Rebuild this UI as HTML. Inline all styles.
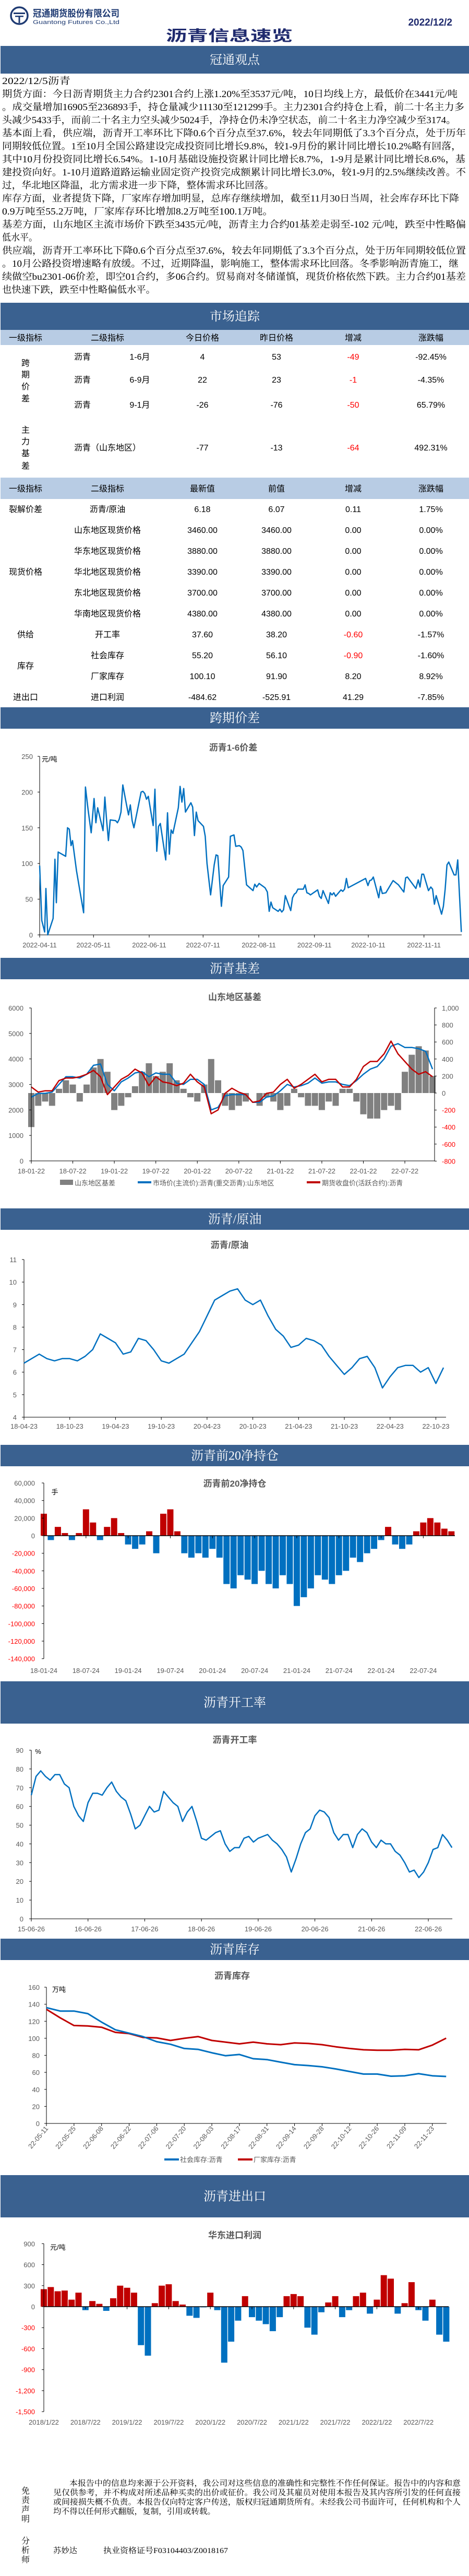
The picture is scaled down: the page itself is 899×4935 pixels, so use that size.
<!DOCTYPE html>
<html><head><meta charset="utf-8">
<style>
html,body{margin:0;padding:0;background:#fff;}
svg{display:block;font-family:"Liberation Sans","Noto Sans CJK SC",sans-serif;}
.b{font-family:"Liberation Serif","Noto Serif CJK SC","Noto Sans CJK SC",serif;}
.ax{font-size:13px;fill:#595959;}
.axr{font-size:13px;fill:#ff0000;}
.tt{font-size:17px;fill:#595959;font-weight:bold;}
.td{font-size:16px;fill:#000;}
.bn{font-size:24px;fill:#fff;}
</style></head>
<body>
<svg id="page" width="899" height="4935" viewBox="0 0 899 4935" xmlns="http://www.w3.org/2000/svg">
<rect x="0" y="0" width="899" height="4935" fill="#fff"/>
<!-- header -->
<g>
<circle cx="37" cy="30" r="16" fill="none" stroke="#1f3b73" stroke-width="3.5"/>
<rect x="26" y="24" width="22" height="3" fill="#1f3b73"/>
<rect x="29" y="30" width="16" height="2.5" fill="#1f3b73"/>
<rect x="35.5" y="30" width="3" height="14" fill="#1f3b73"/>
</g>
<text x="63" y="32" font-size="18" font-weight="bold" fill="#1f3b73" textLength="166" lengthAdjust="spacingAndGlyphs">冠通期货股份有限公司</text>
<text x="63" y="46" font-size="11" fill="#1f3b73" textLength="166" lengthAdjust="spacingAndGlyphs">Guantong Futures Co.,Ltd</text>
<text x="867" y="49" font-size="19" font-weight="bold" fill="#1f2a6e" text-anchor="end">2022/12/2</text>
<text x="318" y="78" font-size="28" font-weight="bold" fill="#1f2a6e" textLength="243" lengthAdjust="spacingAndGlyphs">沥青信息速览</text>

<g id="banners"></g>
<g id="para" class="b"></g>
<g id="table"></g>
<g id="charts"></g>

<!-- footer -->
<g class="b">
<text x="49" y="4777" font-size="16" text-anchor="middle">免</text>
<text x="49" y="4795" font-size="16" text-anchor="middle">责</text>
<text x="49" y="4813" font-size="16" text-anchor="middle">声</text>
<text x="49" y="4831" font-size="16" text-anchor="middle">明</text>
<text x="133" y="4762" font-size="15" textLength="750" lengthAdjust="spacingAndGlyphs">本报告中的信息均来源于公开资料，我公司对这些信息的准确性和完整性不作任何保证。报告中的内容和意</text>
<text x="102" y="4780" font-size="15" textLength="781" lengthAdjust="spacingAndGlyphs">见仅供参考，并不构成对所述品种买卖的出价或征价。我公司及其雇员对使用本报告及其内容所引发的任何直接</text>
<text x="102" y="4798" font-size="15" textLength="781" lengthAdjust="spacingAndGlyphs">或间接损失概不负责。本报告仅向特定客户传送，版权归冠通期货所有。未经我公司书面许可，任何机构和个人</text>
<text x="102" y="4816" font-size="15" textLength="311" lengthAdjust="spacingAndGlyphs">均不得以任何形式翻版，复制，引用或转载。</text>
</g>
<g class="b">
<text x="49" y="4873" font-size="16" text-anchor="middle">分</text>
<text x="49" y="4891" font-size="16" text-anchor="middle">析</text>
<text x="49" y="4909" font-size="16" text-anchor="middle">师</text>
<text x="102" y="4891" font-size="15" textLength="46" lengthAdjust="spacingAndGlyphs">苏妙达</text>
<text x="198" y="4891" font-size="15" textLength="239" lengthAdjust="spacingAndGlyphs">执业资格证号F03104403/Z0018167</text>
</g>
</svg>

<script>
// ===== Chart data =====
const spreadDays=[0,1.2,2.8,3.5,4.5,7.5,8.5,9.3,10.3,14.5,15.5,16.5,17.5,18.3,20.5,22.5,24.5,25.5,27,28.7,30.3,31.3,32.3,35.3,36.3,37.3,38.3,39.3,42.3,43.3,44.3,45.3,46.3,48.3,49.5,50.5,51.5,52.5,54.5,56.5,57.5,58.5,59.5,60.5,63.2,64.2,65.2,66.2,67.2,70.2,71.2,72.2,73.2,74.2,77.2,78.2,79.2,80.2,81.2,84.2,85.2,86.2,87.2,88.2,91.2,92.2,93.2,95.2,97.2,98.2,99.2,101.2,102.2,105.2,106.2,107.2,108.2,109.2,111.2,112.2,113.2,115.2,118.8,119.8,120.8,122.2,125.5,126.8,127.8,128.8,129.8,132.8,133.8,134.8,135.8,136.8,139.8,140.8,141.8,142.8,143.8,146.8,147.8,148.8,149.8,150.8,154.8,155.8,156.8,157.8,160.8,161.8,162.8,163.8,164.8,167.8,168.8,169.8,170.8,171.8,181.5,182.8,183.8,184.8,185.8,188.8,189.8,190.8,192.8,196.8,199.8,202.8,203.8,204.8,209.5,210.8,211.8,212.8,213.8,216.5,217.8,218.8,219.8,220.8,223.8,224.8,225.8,226.8,227.8,230.8,231.8,232.8,234.8];
const spreadValues=[97,20,4,65,0,23,106,45,116,110,150,148,125,132,90,60,31,207,175,143,191,157,178,146,193,160,132,161,160,157,162,172,210,183,168,182,160,150,175,200,201,198,190,194,153,204,117,152,156,105,171,113,147,142,178,208,186,205,172,185,179,139,172,160,152,138,100,56,98,112,111,40,69,81,138,139,140,124,125,123,118,70,62,71,67,72,66,60,33,46,38,33,36,32,35,55,34,52,57,59,64,64,70,59,58,56,63,54,51,62,44,59,56,59,54,63,61,64,79,66,79,69,76,77,81,52,68,58,59,76,70,60,80,81,65,77,67,85,85,62,67,64,43,55,29,40,64,98,102,84,84,105,4];
const spreadTickLabels=['2022-04-11','2022-05-11','2022-06-11','2022-07-11','2022-08-11','2022-09-11','2022-10-11','2022-11-11'];
const spreadTickDays=[0,30,61,91,122,153,183,214];
const spreadYTicks=[0,50,100,150,200,250];

const basisMonthLabels=['18-01-22','18-07-22','19-01-22','19-07-22','20-01-22','20-07-22','21-01-22','21-07-22','22-01-22','22-07-22'];
const basisSpot=[2500,2650,2650,2700,3000,3300,3300,3250,3400,3750,3800,3000,2750,3100,3250,3450,3500,3300,3450,3400,3400,3050,3000,3200,3200,3000,2000,2100,2550,2600,2600,2600,2300,2300,2500,2550,2750,3000,2900,2950,3050,3250,3050,3100,3100,3000,2950,3150,3400,3600,3700,4000,4500,4600,4450,4450,4400,4300,3600];
const basisFutures=[2900,2700,2750,2750,3150,3250,3250,3300,3400,3550,3300,2600,2900,3200,3350,3600,3450,2950,3300,3100,3050,2950,3050,3400,3100,2900,1850,2000,2650,2850,2700,2600,2300,2350,2650,2700,3000,3200,2850,3000,3200,3400,3100,3200,3200,2900,2900,3200,3700,3900,3900,4200,4700,4200,3900,3600,3400,3500,3300];
const basisValues=[-400,-150,-100,-150,50,150,100,-100,100,300,400,250,-200,-150,-50,80,250,350,200,250,350,150,50,-50,-100,100,400,150,-150,-200,-150,-100,0,-150,-50,-100,-200,-150,50,-50,-150,-150,-200,-100,-150,50,50,-100,-250,-300,-300,-200,-150,-200,250,450,550,500,200];
const basisLeftTicks=[0,1000,2000,3000,4000,5000,6000];
const basisRightTicks=[-800,-600,-400,-200,0,200,400,600,800,1000];

const ratioValues=[6.4,6.6,6.8,6.6,6.5,6.6,6.6,6.5,6.7,7.0,7.7,7.5,7.3,6.8,6.9,7.5,7.4,7.0,6.5,6.4,6.6,6.8,7.3,7.8,8.5,9.2,9.4,9.6,9.7,9.2,9.0,9.2,8.5,7.9,7.6,7.1,7.2,7.5,7.4,7.2,6.7,6.3,5.9,6.2,6.6,6.7,6.2,5.3,5.8,6.2,6.3,6.3,6.0,6.2,5.5,6.2];
const ratioTickLabels=['18-04-23','18-10-23','19-04-23','19-10-23','20-04-23','20-10-23','21-04-23','21-10-23','22-04-23','22-10-23'];
const ratioYTicks=[4,5,6,7,8,9,10,11];

const netPosValues=[25000,-5000,10000,3000,-5000,3000,30000,15000,-5000,10000,20000,3000,-10000,-15000,-10000,5000,-20000,25000,30000,5000,-20000,-25000,-20000,-25000,-15000,-25000,-55000,-60000,-45000,-50000,-55000,-40000,-55000,-60000,-45000,-55000,-80000,-70000,-60000,-45000,-50000,-55000,-45000,-40000,-25000,-30000,-20000,-15000,-5000,10000,-10000,-15000,-10000,5000,15000,20000,15000,8000,5000];
const netPosTickLabels=['18-01-24','18-07-24','19-01-24','19-07-24','20-01-24','20-07-24','21-01-24','21-07-24','22-01-24','22-07-24'];
const netPosYTicks=[-140000,-120000,-100000,-80000,-60000,-40000,-20000,0,20000,40000,60000];

const runRateValues=[66,76,79,76,74,77,77,72,70,60,55,52,62,67,67,66,70,73,68,65,63,56,48,50,55,60,57,58,68,65,62,60,52,57,60,52,43,42,44,46,47,40,36,38,38,43,44,41,43,44,45,42,40,37,33,25,32,40,46,48,55,58,57,54,46,42,45,45,38,45,48,46,41,38,42,40,40,36,34,30,25,26,22,25,30,37,38,45,42,38];
const runRateTickLabels=['15-06-26','16-06-26','17-06-26','18-06-26','19-06-26','20-06-26','21-06-26','22-06-26'];
const runRateYTicks=[0,10,20,30,40,50,60,70,80,90];

const invWeeks=['22-05-11','22-05-18','22-05-25','22-06-01','22-06-08','22-06-15','22-06-22','22-06-29','22-07-06','22-07-13','22-07-20','22-07-27','22-08-03','22-08-10','22-08-17','22-08-24','22-08-31','22-09-07','22-09-14','22-09-21','22-09-28','22-10-05','22-10-12','22-10-19','22-10-26','22-11-02','22-11-09','22-11-16','22-11-23','22-11-30'];
const socialInv=[136,132,132,129,119,110,106,102,96,93,88,87,83,79.5,81,76,75,72,69,68,66.5,64,61,58,58,55.5,56,58.5,56,55.2];
const factoryInv=[134,124,115,114.5,113,107,105.5,101,100.5,97.5,100,102,97.5,95.5,93.5,95.5,93.5,92.5,94.5,94,92.5,90,88,86.5,86,86,87,86.5,92,100.1];
const invYTicks=[0,20,40,60,80,100,120,140,160];

const importProfit=[250,280,220,230,100,200,-50,80,40,-60,120,300,270,200,-550,-700,50,300,320,80,30,-130,-160,-10,200,-50,-800,-500,-200,150,-150,-200,-250,-350,-150,150,180,150,-300,-400,-80,60,150,-150,-50,150,200,-100,100,450,400,-100,50,350,-50,-200,100,-400,-500];
const importTickLabels=['2018/1/22','2018/7/22','2019/1/22','2019/7/22','2020/1/22','2020/7/22','2021/1/22','2021/7/22','2022/1/22','2022/7/22'];
const importYTicks=[-1500,-1200,-900,-600,-300,0,300,600,900];

// ===== helpers =====
const NS='http://www.w3.org/2000/svg';
function el(tag,parent,attrs){const e=document.createElementNS(NS,tag);for(const k in attrs)e.setAttribute(k,attrs[k]);parent.appendChild(e);return e;}
function txt(parent,x,y,s,cls,anchor){const t=el('text',parent,{x:x,y:y,'class':cls||'ax','text-anchor':anchor||'middle'});t.textContent=s;return t;}
function fmt(v){return v.toLocaleString('en-US');}

// ===== banners =====
const bannersG=document.getElementById('banners');
const banners=[['冠通观点',88,141],['市场追踪',580,632],['跨期价差',1355,1396],['沥青基差',1835,1876],['沥青/原油',2315,2356],['沥青前20净持仓',2768,2809],['沥青开工率',3221,3302],['沥青库存',3714,3755],['沥青进出口',4167,4248]];
banners.forEach(b=>{
  const g=el('g',bannersG,{});
  
  
  el('rect',g,{x:1,y:b[1],width:898,height:b[2]-b[1],fill:'#3a6190'});
  const t=txt(g,450,(b[1]+b[2])/2+8,b[0],'bn b','middle');
});

// ===== paragraph =====
const paraG=document.getElementById('para');
const paraLines=[
['2022/12/5沥青',131],
['期货方面：今日沥青期货主力合约2301合约上涨1.20%至3537元/吨，10日均线上方，最低价在3441元/吨',873],
['。成交量增加16905至236893手，持仓量减少11130至121299手。主力2301合约持仓上看，前二十名主力多',886],
['头减少5433手，而前二十名主力空头减少5024手，净持仓仍未净空状态，前二十名主力净空减少至3174。',870],
['基本面上看，供应端，沥青开工率环比下降0.6个百分点至37.6%，较去年同期低了3.3个百分点，处于历年',889],
['同期较低位置。1至10月全国公路建设完成投资同比增长9.8%，较1-9月份的累计同比增长10.2%略有回落，',880],
['其中10月份投资同比增长6.54%。1-10月基础设施投资累计同比增长8.7%，1-9月是累计同比增长8.6%，基',888],
['建投资向好。1-10月道路道路运输业固定资产投资完成额累计同比增长3.0%，较1-9月的2.5%继续改善。不',889],
['过，华北地区降温，北方需求进一步下降，整体需求环比回落。',521],
['库存方面，业者提货下降，厂家库存增加明显，总库存继续增加，截至11月30日当周，社会库存环比下降',876],
['0.9万吨至55.2万吨，厂家库存环比增加8.2万吨至100.1万吨。',519],
['基差方面，山东地区主流市场价下跌至3435元/吨，沥青主力合约01基差走弱至-102 元/吨，跌至中性略偏',889],
['低水平。',68],
['供应端，沥青开工率环比下降0.6个百分点至37.6%，较去年同期低了3.3个百分点，处于历年同期较低位置',889],
['。10月公路投资增速略有放缓。不过，近期降温，影响施工，整体需求环比回落。冬季影响沥青施工，继',875],
['续做空bu2301-06价差，即空01合约，多06合约。贸易商对冬储谨慎，现货价格依然下跌。主力合约01基差',889],
['也快速下跌，跌至中性略偏低水平。',294]];
paraLines.forEach((l,i)=>{
  const t=el('text',paraG,{x:4,y:161+i*25,'font-size':18,textLength:l[1],lengthAdjust:'spacingAndGlyphs',fill:'#000'});
  t.textContent=l[0];
});

// ===== table =====
const tableG=document.getElementById('table');
const cols=[49,206,388,530,677,826];
function hdr(y0,y1,labels){
  const g=el('g',tableG,{});
  
  
  el('rect',g,{x:1,y:y0,width:898,height:y1-y0,fill:'#b8cce4'});
  labels.forEach((s,i)=>txt(g,cols[i],(y0+y1)/2+6,s,'td','middle'));
}
hdr(632,661,['一级指标','二级指标','今日价格','昨日价格','增减','涨跌幅']);
hdr(915,956,['一级指标','二级指标','最新值','前值','增减','涨跌幅']);
const spreadRowsName=['沥青','沥青','沥青'];
const spreadRowsSub=['1-6月','6-9月','9-1月'];
const spreadRowsToday=['4','22','-26'];
const spreadRowsPrev=['53','23','-76'];
const spreadRowsChg=['-49','-1','-50'];
const spreadRowsPct=['-92.45%','-4.35%','65.79%'];
const spreadRowY=[689,733,781];
spreadRowY.forEach((y,i)=>{
  const g=el('g',tableG,{});
  
  
  txt(g,158,y,spreadRowsName[i],'td');txt(g,268,y,spreadRowsSub[i],'td');
  txt(g,388,y,spreadRowsToday[i],'td');txt(g,530,y,spreadRowsPrev[i],'td');
  const c=txt(g,677,y,spreadRowsChg[i],'td');c.setAttribute('fill','#ff0000');c.style.fill='#ff0000';
  txt(g,826,y,spreadRowsPct[i],'td');
});
['跨','期','价','差'].forEach((s,i)=>txt(tableG,49,[701,723,746,769][i],s,'td'));
['主','力','基','差'].forEach((s,i)=>txt(tableG,49,[829,851,874,898][i],s,'td'));
(function(){const g=el('g',tableG,{});


txt(g,206,863,'沥青（山东地区）','td');txt(g,388,863,'-77','td');txt(g,530,863,'-13','td');
const c=txt(g,677,863,'-64','td');c.style.fill='#ff0000';txt(g,826,863,'492.31%','td');})();
const rowSub=['沥青/原油','山东地区现货价格','华东地区现货价格','华北地区现货价格','东北地区现货价格','华南地区现货价格','开工率','社会库存','厂家库存','进口利润'];
const rowNow=['6.18','3460.00','3880.00','3390.00','3700.00','4380.00','37.60','55.20','100.10','-484.62'];
const rowPrev=['6.07','3460.00','3880.00','3390.00','3700.00','4380.00','38.20','56.10','91.90','-525.91'];
const rowChg=['0.11','0.00','0.00','0.00','0.00','0.00','-0.60','-0.90','8.20','41.29'];
const rowPct=['1.75%','0.00%','0.00%','0.00%','0.00%','0.00%','-1.57%','-1.60%','8.92%','-7.85%'];
rowSub.forEach((s,i)=>{
  const y=981+i*40;
  const g=el('g',tableG,{});
  
  
  txt(g,206,y,s,'td');txt(g,388,y,rowNow[i],'td');txt(g,530,y,rowPrev[i],'td');
  const c=txt(g,677,y,rowChg[i],'td');if(rowChg[i][0]==='-')c.style.fill='#ff0000';
  txt(g,826,y,rowPct[i],'td');
});
[['裂解价差',981],['现货价格',1101],['供给',1221],['库存',1281],['进出口',1341]].forEach(a=>txt(tableG,49,a[1],a[0],'td'));

// ===== charts =====
const chartsG=document.getElementById('charts');
function chartGroup(name){const g=el('g',chartsG,{});return g;}
function polyline(g,pts,color,w){return el('polyline',g,{points:pts.map(p=>p[0].toFixed(1)+','+p[1].toFixed(1)).join(' '),fill:'none',stroke:color,'stroke-width':w,'stroke-linejoin':'round'});}

// Chart 1: 1-6 spread
(function(){
  const g=chartGroup('spread-1-6-chart');
  const x0=76,x1=885,yb=1791,yt=1449;
  const X=d=>x0+d/235*(x1-x0), Y=v=>yb-v/250*(yb-yt);
  txt(g,447,1438,'沥青1-6价差','tt');
  el('line',g,{x1:x0,y1:yt,x2:x0,y2:yb,stroke:'#000'});
  el('line',g,{x1:x0,y1:yb,x2:x1,y2:yb,stroke:'#000'});
  spreadYTicks.forEach(v=>{el('line',g,{x1:x0-4,y1:Y(v),x2:x0,y2:Y(v),stroke:'#000'});txt(g,63,Y(v)+5,String(v),'ax','end');});
  spreadTickDays.forEach((d,i)=>{el('line',g,{x1:X(d),y1:yb,x2:X(d),y2:yb+5,stroke:'#000'});txt(g,X(d),1815,spreadTickLabels[i],'ax');});
  const u=txt(g,80,1459,'元/吨','ax','start');u.style.fill='#000';
  const l=polyline(g,spreadDays.map((d,i)=>[X(d),Y(spreadValues[i])]),'#0070c0',2.5);
  
  
})();

// Chart 2: Shandong basis
(function(){
  const g=chartGroup('shandong-basis-chart');
  const x0=60,x1=833,yb=2224,yt=1931,step=13.26;
  const X=m=>x0+m*step, Y=v=>yb-v/6000*(yb-yt), YR=v=>2094-v/1000*(2094-yt);
  txt(g,450,1916,'山东地区基差','tt');
  basisValues.forEach((v,i)=>{
    const r=el('rect',g,{x:X(i)-6,y:Math.min(YR(v),YR(0)),width:12,height:Math.abs(YR(v)-YR(0)),fill:'#808080'});
    
    
  });
  const lb=polyline(g,basisSpot.map((v,i)=>[X(i),Y(v)]),'#0070c0',2.5);
  
  
  const lr=polyline(g,basisFutures.map((v,i)=>[X(i),Y(v)]),'#c00000',2.5);
  
  
  el('line',g,{x1:x0,y1:yt,x2:x0,y2:yb,stroke:'#000'});
  el('line',g,{x1:x1,y1:yt,x2:x1,y2:yb,stroke:'#000'});
  el('line',g,{x1:x0,y1:yb,x2:x1,y2:yb,stroke:'#000'});
  basisLeftTicks.forEach(v=>{el('line',g,{x1:x0-4,y1:Y(v),x2:x0,y2:Y(v),stroke:'#000'});txt(g,45,Y(v)+5,String(v),'ax','end');});
  basisRightTicks.forEach(v=>{el('line',g,{x1:x1,y1:YR(v),x2:x1+4,y2:YR(v),stroke:'#000'});txt(g,847,YR(v)+5,fmt(v),v<0?'axr':'ax','start');});
  basisMonthLabels.forEach((s,i)=>{const xx=X(i*6);el('line',g,{x1:xx,y1:yb,x2:xx,y2:yb+5,stroke:'#000'});txt(g,xx,2248,s,'ax');});
  const lg=el('g',g,{});
  
  
  el('rect',lg,{x:115,y:2260,width:25,height:10,fill:'#808080'});
  txt(lg,143,2271,'山东地区基差','ax','start');
  el('rect',lg,{x:264,y:2263,width:26,height:4,fill:'#0070c0'});
  txt(lg,293,2271,'市场价(主流价):沥青(重交沥青):山东地区','ax','start');
  el('rect',lg,{x:588,y:2263,width:26,height:4,fill:'#c00000'});
  txt(lg,617,2271,'期货收盘价(活跃合约):沥青','ax','start');
})();

// Chart 3: asphalt/crude
(function(){
  const g=chartGroup('asphalt-crude-ratio-chart');
  const x0=46,x1=855,yb=2715,yt=2413,step=14.62;
  const X=m=>x0+m*step, Y=v=>yb-(v-4)/7*(yb-yt);
  txt(g,440,2391,'沥青/原油','tt');
  el('line',g,{x1:x0,y1:yt,x2:x0,y2:yb,stroke:'#000'});
  el('line',g,{x1:x0,y1:yb,x2:x1,y2:yb,stroke:'#000'});
  ratioYTicks.forEach(v=>{el('line',g,{x1:x0-4,y1:Y(v),x2:x0,y2:Y(v),stroke:'#000'});txt(g,32,Y(v)+5,String(v),'ax','end');});
  ratioTickLabels.forEach((s,i)=>{const xx=X(i*6);el('line',g,{x1:xx,y1:yb,x2:xx,y2:yb+5,stroke:'#000'});txt(g,xx,2737,s,'ax');});
  const l=polyline(g,ratioValues.map((v,i)=>[X(i),Y(v)]),'#0070c0',2.5);
  
  
})();

// Chart 4: top-20 net position
(function(){
  const g=chartGroup('net-position-chart');
  const x0=84,x1=872,y0=2942,step=13.47;
  const X=m=>x0+m*step, Y=v=>y0-v/60000*101;
  txt(g,450,2848,'沥青前20净持仓','tt');
  netPosValues.forEach((v,i)=>{
    const r=el('rect',g,{x:X(i)-6,y:Math.min(Y(v),Y(0)),width:12,height:Math.abs(Y(v)-Y(0)),fill:v>=0?'#c00000':'#0070c0'});
    
    
  });
  el('line',g,{x1:x0,y1:Y(60000),x2:x0,y2:Y(-140000),stroke:'#000'});
  el('line',g,{x1:x0,y1:y0,x2:x1,y2:y0,stroke:'#000','stroke-width':1.5});
  netPosYTicks.forEach(v=>{el('line',g,{x1:x0-4,y1:Y(v),x2:x0,y2:Y(v),stroke:'#000'});txt(g,67,Y(v)+5,fmt(v),v<0?'axr':'ax','end');});
  netPosTickLabels.forEach((s,i)=>{const xx=X(i*6);el('line',g,{x1:xx,y1:y0,x2:xx,y2:y0+5,stroke:'#000'});txt(g,xx,3205,s,'ax');});
  const u=txt(g,105,2863,'手','ax','middle');u.style.fill='#000';
})();

// Chart 5: run rate
(function(){
  const g=chartGroup('run-rate-chart');
  const x0=60,x1=867,yb=3676,yt=3353,step=9.06;
  const X=m=>x0+m*step, Y=v=>yb-v/90*(yb-yt);
  txt(g,450,3339,'沥青开工率','tt');
  el('line',g,{x1:x0,y1:yt,x2:x0,y2:yb,stroke:'#000'});
  el('line',g,{x1:x0,y1:yb,x2:x1,y2:yb,stroke:'#000'});
  runRateYTicks.forEach(v=>{el('line',g,{x1:x0-4,y1:Y(v),x2:x0,y2:Y(v),stroke:'#000'});txt(g,45,Y(v)+5,String(v),'ax','end');});
  runRateTickLabels.forEach((s,i)=>{const xx=X(i*12);el('line',g,{x1:xx,y1:yb,x2:xx,y2:yb+5,stroke:'#000'});txt(g,xx,3700,s,'ax');});
  const u=txt(g,73,3360,'%','ax','middle');u.style.fill='#000';
  const l=polyline(g,runRateValues.map((v,i)=>[X(i),Y(v)]),'#0070c0',2.5);
  
  
})();

// Chart 6: inventory
(function(){
  const g=chartGroup('inventory-chart');
  const x0=89,x1=856,yb=4068,yt=3807,step=26.42;
  const X=w=>x0+w*step, Y=v=>yb-v/160*(yb-yt);
  txt(g,445,3791,'沥青库存','tt');
  el('line',g,{x1:x0,y1:yt,x2:x0,y2:yb,stroke:'#000'});
  el('line',g,{x1:x0,y1:yb,x2:x1,y2:yb,stroke:'#000'});
  invYTicks.forEach(v=>{el('line',g,{x1:x0-4,y1:Y(v),x2:x0,y2:Y(v),stroke:'#000'});txt(g,76,Y(v)+5,String(v),'ax','end');});
  invWeeks.forEach((s,i)=>{if(i%2)return;const xx=X(i);el('line',g,{x1:xx,y1:yb,x2:xx,y2:yb+5,stroke:'#000'});
    const t=txt(g,xx+4,4078,s,'ax','end');t.setAttribute('transform','rotate(-50 '+(xx+4)+' 4078)');});
  const u=txt(g,100,3816,'万吨','ax','start');u.style.fill='#000';
  const lr=polyline(g,factoryInv.map((v,i)=>[X(i),Y(v)]),'#c00000',3);
  
  
  const lb=polyline(g,socialInv.map((v,i)=>[X(i),Y(v)]),'#0070c0',3);
  
  
  const lg=el('g',g,{});
  
  
  el('rect',lg,{x:315,y:4135,width:28,height:4,fill:'#0070c0'});
  txt(lg,345,4142,'社会库存:沥青','ax','start');
  el('rect',lg,{x:456,y:4135,width:28,height:4,fill:'#c00000'});
  txt(lg,486,4142,'厂家库存:沥青','ax','start');
})();

// Chart 7: import profit
(function(){
  const g=chartGroup('import-profit-chart');
  const x0=84,x1=860,y0=4419,step=13.3;
  const X=m=>x0+m*step, Y=v=>y0-v*0.1341;
  txt(g,450,4288,'华东进口利润','tt');
  importProfit.forEach((v,i)=>{
    const r=el('rect',g,{x:X(i)-6,y:Math.min(Y(v),Y(0)),width:12,height:Math.abs(Y(v)-Y(0)),fill:v>=0?'#c00000':'#0070c0'});
    
    
  });
  el('line',g,{x1:x0,y1:Y(900),x2:x0,y2:Y(-1500),stroke:'#000'});
  el('line',g,{x1:x0,y1:y0,x2:x1,y2:y0,stroke:'#000','stroke-width':1.5});
  importYTicks.forEach(v=>{el('line',g,{x1:x0-4,y1:Y(v),x2:x0,y2:Y(v),stroke:'#000'});txt(g,67,Y(v)+5,fmt(v),v<0?'axr':'ax','end');});
  importTickLabels.forEach((s,i)=>{const xx=X(i*6);el('line',g,{x1:xx,y1:y0,x2:xx,y2:y0+5,stroke:'#000'});txt(g,xx,4645,s,'ax');});
  const u=txt(g,96,4310,'元/吨','ax','start');u.style.fill='#000';
})();
</script>
</body></html>
